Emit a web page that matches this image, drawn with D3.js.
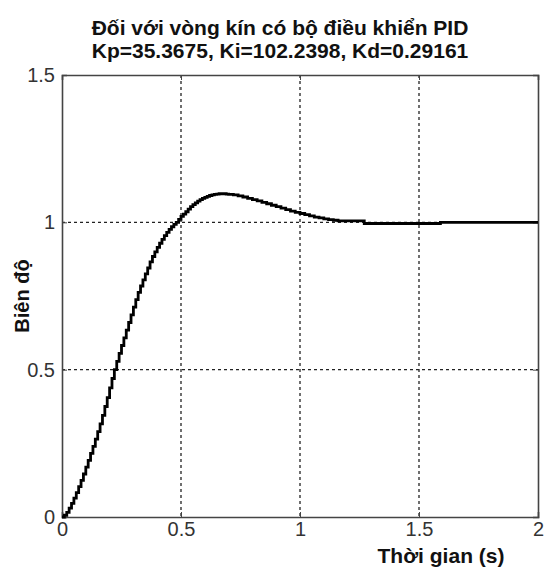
<!DOCTYPE html>
<html>
<head>
<meta charset="utf-8">
<script src="https://cdn.jsdelivr.net/npm/d3@7"></script>
<style>
  body { margin: 0; background: #fff; }
  text { font-family: "Liberation Sans", Arial, sans-serif; }
</style>
</head>
<body>
<div id="chart"></div>
<script>
///////////// data //////////////
// step response samples (time in s, amplitude)
var time_s = [
  0.00,0.01,0.02,0.03,0.04,0.05,0.06,0.07,0.08,0.09,
  0.10,0.11,0.12,0.13,0.14,0.15,0.16,0.17,0.18,0.19,
  0.20,0.21,0.22,0.23,0.24,0.25,0.26,0.27,0.28,0.29,
  0.30,0.31,0.32,0.33,0.34,0.35,0.36,0.37,0.38,0.39,
  0.40,0.41,0.42,0.43,0.44,0.45,0.46,0.47,0.48,0.49,
  0.50,0.51,0.52,0.53,0.54,0.55,0.56,0.57,0.58,0.59,
  0.60,0.61,0.62,0.63,0.64,0.65,0.66,0.67,0.68,0.69,
  0.70,0.72,0.74,0.76,0.78,0.80,0.82,0.84,0.86,0.88,
  0.90,0.92,0.94,0.96,0.98,1.00,1.02,1.04,1.06,1.08,
  1.10,1.12,1.14,1.16,1.27,1.59,2.00];
var amplitude = [
  0.000,0.006,0.016,0.030,0.046,0.064,0.083,0.103,0.124,0.146,
  0.169,0.192,0.216,0.240,0.264,0.290,0.316,0.345,0.375,0.405,
  0.438,0.470,0.500,0.528,0.555,0.582,0.608,0.634,0.660,0.686,
  0.712,0.738,0.762,0.784,0.805,0.825,0.845,0.866,0.884,0.900,
  0.915,0.929,0.942,0.955,0.966,0.976,0.985,0.993,1.000,1.010,
  1.020,1.028,1.036,1.045,1.053,1.060,1.066,1.072,1.077,1.081,
  1.085,1.088,1.091,1.093,1.095,1.096,1.097,1.097,1.097,1.096,
  1.095,1.093,1.090,1.086,1.081,1.077,1.073,1.068,1.063,1.058,
  1.053,1.048,1.043,1.038,1.034,1.030,1.026,1.022,1.018,1.015,
  1.012,1.009,1.007,1.005,0.996,1.000,1.000];

var x_ticks = [0, 0.5, 1, 1.5, 2];
var y_ticks = [0, 0.5, 1, 1.5];
var title_lines = ['Đối với vòng kín có bộ điều khiển PID',
                   'Kp=35.3675, Ki=102.2398, Kd=0.29161'];
var x_label = 'Thời gian (s)';
var y_label = 'Biên độ';

var data = time_s.map(function(t, i){ return {t: t, v: amplitude[i]}; });

///////////// layout //////////////
const svg_width = 545, svg_height = 571;
const plot = {left: 62, top: 75, right: 538, bottom: 517};

var svg = d3.select('#chart').append('svg')
  .attr('width', svg_width).attr('height', svg_height);

var x = d3.scaleLinear().domain([0, 2]).range([plot.left, plot.right]);
var y = d3.scaleLinear().domain([0, 1.5]).range([plot.bottom, plot.top]);

// grid lines (dotted)
svg.append('g').selectAll('line').data(x_ticks.slice(1, -1)).enter().append('line')
  .attr('x1', d => x(d)).attr('x2', d => x(d))
  .attr('y1', plot.top).attr('y2', plot.bottom)
  .attr('stroke', '#222').attr('stroke-width', 1.3).attr('stroke-dasharray', '3,3');
svg.append('g').selectAll('line').data(y_ticks.slice(1, -1)).enter().append('line')
  .attr('x1', plot.left).attr('x2', plot.right)
  .attr('y1', d => y(d)).attr('y2', d => y(d))
  .attr('stroke', '#222').attr('stroke-width', 1.3).attr('stroke-dasharray', '3,3');

// axes box
var xAxis = d3.axisBottom(x).tickValues(x_ticks).tickSize(-5).tickPadding(5).tickFormat(d3.format('~g'));
var yAxis = d3.axisLeft(y).tickValues(y_ticks).tickSize(-5).tickPadding(7).tickFormat(d3.format('~g'));
var xTop = d3.axisTop(x).tickValues(x_ticks).tickSize(-5).tickFormat('');
var yRight = d3.axisRight(y).tickValues(y_ticks).tickSize(-5).tickFormat('');

function style_axis(g){
  g.select('.domain').attr('stroke', '#444').attr('stroke-width', 1.6);
  g.selectAll('.tick line').attr('stroke', '#444');
  g.selectAll('.tick text').attr('fill', '#333').attr('font-size', 20)
    .attr('font-family', '"Liberation Sans", Arial, sans-serif');
}
svg.append('g').attr('transform', 'translate(0,' + plot.bottom + ')').call(xAxis).call(style_axis);
svg.append('g').attr('transform', 'translate(' + plot.left + ',0)').call(yAxis).call(style_axis);
svg.append('g').attr('transform', 'translate(0,' + plot.top + ')').call(xTop).call(style_axis);
svg.append('g').attr('transform', 'translate(' + plot.right + ',0)').call(yRight).call(style_axis);

// response curve (discrete, stair-stepped)
var line = d3.line().x(d => x(d.t)).y(d => y(d.v)).curve(d3.curveStepAfter);
svg.append('path').datum(data)
  .attr('d', line).attr('fill', 'none')
  .attr('stroke', '#000').attr('stroke-width', 2.8);

// titles
svg.append('g').selectAll('text').data(title_lines).enter().append('text')
  .attr('x', 280)
  .attr('y', (d, i) => 35 + i * 23)
  .attr('text-anchor', 'middle')
  .attr('font-size', 21).attr('font-weight', 'bold').attr('fill', '#111')
  .text(d => d);

svg.append('text')
  .attr('x', 441).attr('y', 563)
  .attr('text-anchor', 'middle')
  .attr('font-size', 21).attr('font-weight', 'bold').attr('fill', '#111')
  .text(x_label);

svg.append('text')
  .attr('transform', 'translate(29,' + ((plot.top + plot.bottom) / 2) + ') rotate(-90)')
  .attr('text-anchor', 'middle')
  .attr('font-size', 20).attr('font-weight', 'bold').attr('fill', '#111')
  .text(y_label);
</script>
</body>
</html>
